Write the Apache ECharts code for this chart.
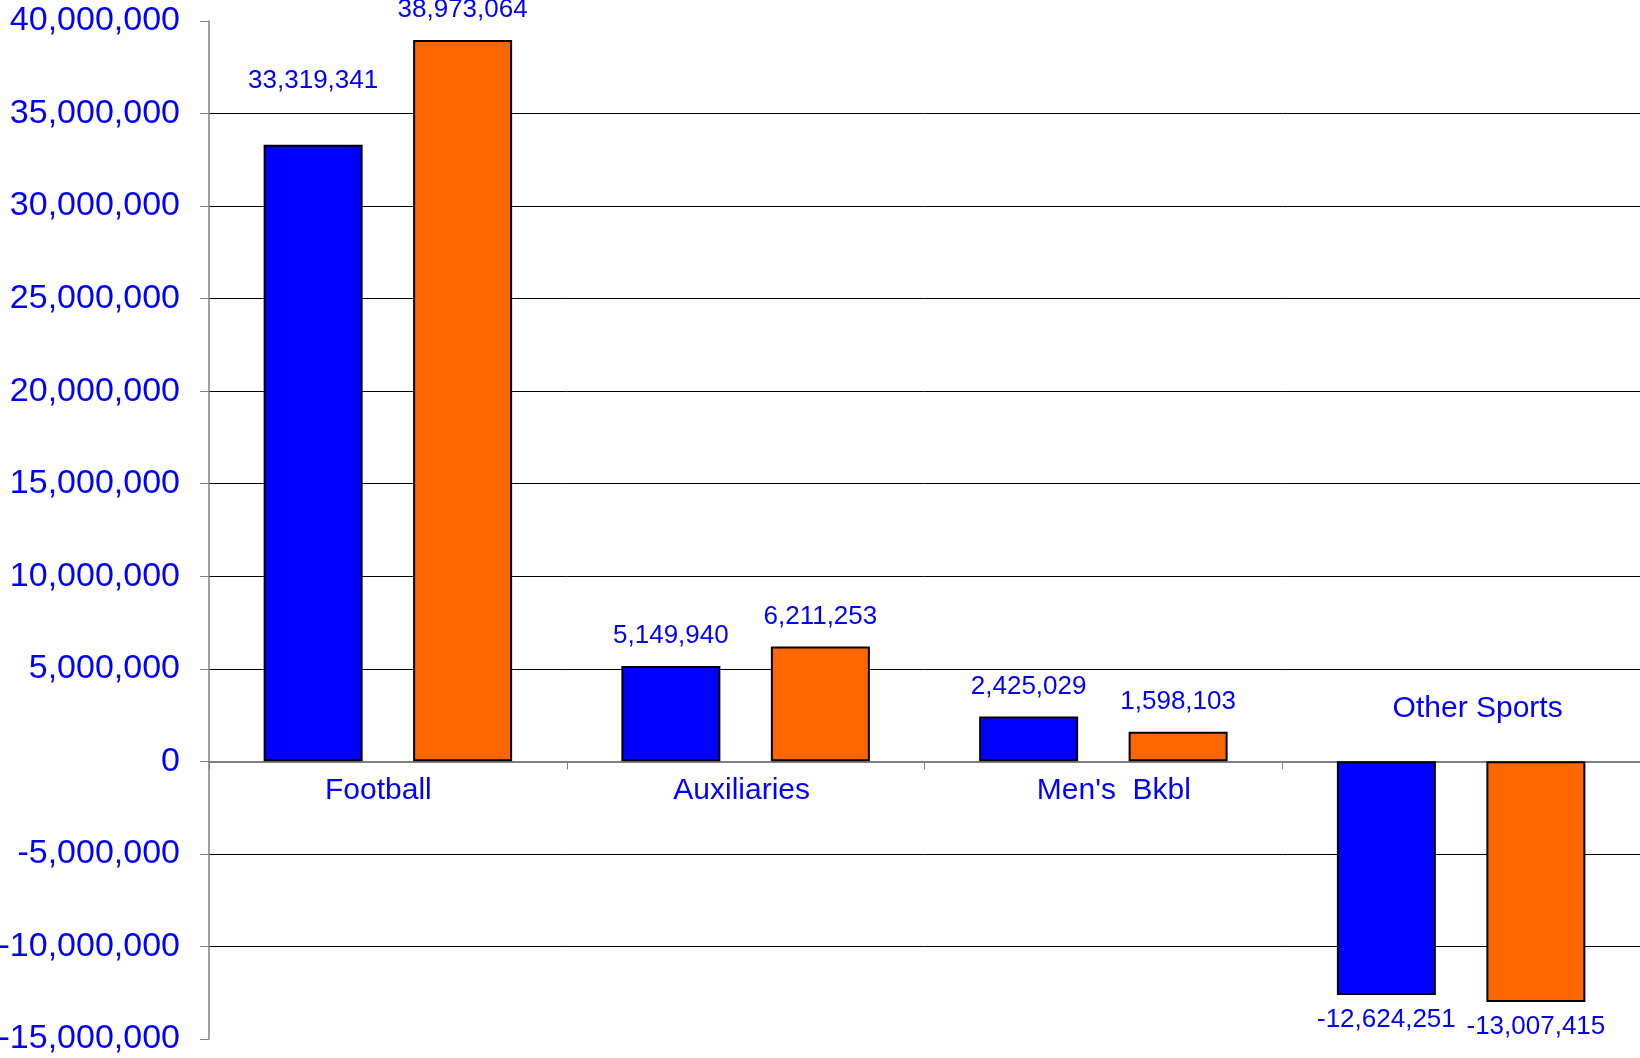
<!DOCTYPE html>
<html><head><meta charset="utf-8">
<script src="https://cdn.jsdelivr.net/npm/echarts@6/dist/echarts.min.js"></script>
<style>html,body{margin:0;padding:0;background:#fff}#c{width:1640px;height:1058px}</style>
</head><body><div id="c"></div>
<script>
// ---- data ----
const categories = ['Football', 'Auxiliaries', "Men's  Bkbl", 'Other Sports'];
const seriesBlue = [33319341, 5149940, 2425029, -12624251];
const seriesOrange = [38973064, 6211253, 1598103, -13007415];
const yMin = -15000000;
const yMax = 40000000;
const yStep = 5000000;

// ---- presentation ----
const FONT = '"Liberation Sans", Arial, sans-serif';
const BLUE = '#0000FF';
const ORANGE = '#FF6600';
const fmt = v => Number(v).toLocaleString('en-US');
const GRID = { left: 209, right: 0, top: 21, bottom: 19 };
const H = 1058;

// per-category label nudges (style only)
const catLabelStyle = [
  { padding: [0, 19, 0, 0] },
  { padding: [0, 8, 0, 0] },
  { padding: [0, 0, 0, 21] },
  { verticalAlign: 'bottom', padding: [0, 0, 52, 33] }
];
const blueLabelOverride = { 0: { distance: 51 } };

const catData = categories.map((c, i) => ({ value: c, textStyle: catLabelStyle[i] }));
function makeData(vals, overrides) {
  return vals.map((v, i) => {
    const item = { value: v };
    const dist = v < 0 ? 12 : 17;
    item.label = Object.assign({ distance: dist }, overrides && overrides[i] ? overrides[i] : {});
    return item;
  });
}

const chart = echarts.init(document.getElementById('c'), null, { renderer: 'canvas' });
const option = {
  animation: false,
  backgroundColor: '#ffffff',
  textStyle: { fontFamily: FONT },
  grid: Object.assign({ containLabel: false, outerBoundsMode: 'none' }, GRID),
  xAxis: {
    type: 'category',
    data: catData,
    position: 'bottom',
    offset: 0,
    axisLine: { onZero: false, lineStyle: { color: '#808080', width: 2 } },
    axisTick: { show: true, alignWithLabel: false, length: 8, lineStyle: { color: '#808080', width: 1 } },
    axisLabel: { interval: 0, margin: 14, color: BLUE, fontSize: 30, fontFamily: FONT },
    splitLine: { show: false }
  },
  yAxis: {
    type: 'value',
    min: yMin, max: yMax, interval: yStep,
    axisLine: { show: true, lineStyle: { color: '#808080', width: 1.5 } },
    axisTick: { show: true, inside: false, length: 9, lineStyle: { color: '#808080', width: 1 } },
    axisLabel: { margin: 29, color: BLUE, fontSize: 34, fontFamily: FONT, formatter: fmt },
    splitLine: { show: true, showMinLine: false, showMaxLine: false, lineStyle: { color: '#000000', width: 1 } }
  },
  series: [
    {
      name: 'Series 1', type: 'bar', data: makeData(seriesBlue, blueLabelOverride),
      barWidth: 99, barGap: '51%',
      itemStyle: { color: BLUE, borderColor: '#000000', borderWidth: 2 },
      label: { show: true, position: 'outside', color: BLUE, fontSize: 26, fontFamily: FONT, formatter: p => fmt(p.value) }
    },
    {
      name: 'Series 2', type: 'bar', data: makeData(seriesOrange),
      barWidth: 99, barGap: '51%',
      itemStyle: { color: ORANGE, borderColor: '#000000', borderWidth: 2 },
      label: { show: true, position: 'outside', color: BLUE, fontSize: 26, fontFamily: FONT, formatter: p => fmt(p.value) }
    }
  ]
};
chart.setOption(option);
// move the category axis up to the zero line using the library's own scale
const zeroY = chart.convertToPixel({ yAxisIndex: 0 }, 0);
const gridBottomY = H - GRID.bottom;
chart.setOption({ xAxis: { offset: -(gridBottomY - zeroY) } });
</script></body></html>
